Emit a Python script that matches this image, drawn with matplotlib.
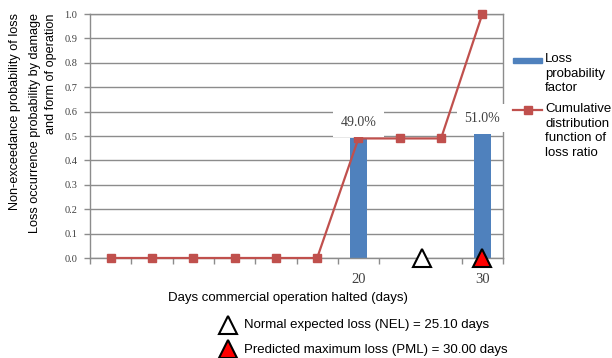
import matplotlib
matplotlib.use("Agg")
import matplotlib.pyplot as plt
from matplotlib.lines import Line2D
from matplotlib.patches import Rectangle

# ---- data ----
categories = list(range(10))
tick_labels = ["", "", "", "", "", "", "20", "", "", "30"]
bar_values = [0, 0, 0, 0, 0, 0, 0.49, 0, 0, 0.51]
bar_labels = {6: "49.0%", 9: "51.0%"}
cdf_values = [0, 0, 0, 0, 0, 0, 0.49, 0.49, 0.49, 1.0]
nel_days = 25.10
pml_days = 30.00
yticks = [round(0.1 * i, 1) for i in range(11)]

W, H = 612, 358
fig = plt.figure(figsize=(W / 100, H / 100), dpi=100)
sans = "Liberation Sans"
serif = "Liberation Serif"

def fx(px):
    return px / W

def fy(py):
    return 1 - py / H

ax = fig.add_axes([fx(90), fy(258), fx(503) - fx(90), (258 - 14) / H])

grid_c = "#8c8c8c"
blue = "#4F81BD"
red = "#C0504D"

# bars
bx = [c for c, v in zip(categories, bar_values) if v > 0]
bv = [v for v in bar_values if v > 0]
ax.bar(bx, bv, width=0.4, color=blue, zorder=2)

# line
ax.plot(categories, cdf_values, color=red, lw=1.6, marker="s", ms=6,
        zorder=3, clip_on=False)

# data labels
for i, txt in bar_labels.items():
    ax.annotate(txt, xy=(i, bar_values[i]), xytext=(0, 6.5), textcoords="offset points",
                ha="center", va="bottom", fontsize=10, family=serif, color="#404040",
                bbox=dict(boxstyle="square,pad=0.55", fc="white", ec="none"), zorder=4)

# NEL / PML markers: map days to category positions via tick labels (20 -> 6, 30 -> 9)
def day_to_pos(d):
    return 6 + (d - 20) * (9 - 6) / (30 - 20)

ax.plot([day_to_pos(nel_days)], [0], marker="^", ms=13, mfc="white", mec="black",
        mew=1.5, ls="none", clip_on=False, zorder=5)
ax.plot([day_to_pos(pml_days)], [0], marker="^", ms=13, mfc="red", mec="black",
        mew=1.5, ls="none", clip_on=False, zorder=5)

ax.set_xlim(-0.5, 9.5)
ax.set_ylim(0, 1.0)
ax.set_yticks(yticks)
ax.set_yticklabels([f"{t:.1f}" for t in yticks], family=serif, fontsize=7.5, color="#404040")
ax.set_xticks(categories)
ax.set_xticklabels(tick_labels, family=serif, fontsize=10.5, color="#404040")
ax.set_xticks([c + 0.5 for c in categories[:-1]] + [-0.5, 9.5], minor=True)
ax.tick_params(axis="x", which="major", length=0, pad=11)
ax.tick_params(axis="x", which="minor", length=4, color=grid_c, width=1)
ax.tick_params(axis="y", length=4, color=grid_c, width=1, pad=5)
ax.grid(axis="y", color=grid_c, lw=1, zorder=0)
ax.set_axisbelow(True)
for s in ax.spines.values():
    s.set_color(grid_c)
    s.set_linewidth(1)

# axis titles
fig.text(fx(288), fy(297.5), "Days commercial operation halted (days)", ha="center", va="center",
         fontsize=9.5, family=sans)
fig.text(fx(15), fy(13), "Non-exceedance probability of loss", rotation=90, ha="center",
         va="top", fontsize=9.1, family=sans)
fig.text(fx(35), fy(13), "Loss occurrence probability by damage", rotation=90, ha="center",
         va="top", fontsize=9.1, family=sans)
fig.text(fx(51), fy(13), "and form of operation", rotation=90, ha="center",
         va="top", fontsize=9.1, family=sans)

# right legend
fig.add_artist(Rectangle((fx(513), fy(63)), fx(542) - fx(513), 5 / H, color=blue,
                         transform=fig.transFigure))
fig.text(fx(545), fy(53.5), "Loss\nprobability\nfactor", ha="left", va="top", fontsize=9.5,
         family=sans, linespacing=1.27)
fig.add_artist(Line2D([fx(513), fx(542)], [fy(110), fy(110)], color=red, lw=1.6,
                      transform=fig.transFigure))
fig.add_artist(Line2D([fx(527.5)], [fy(110)], color=red, marker="s", ms=6,
                      transform=fig.transFigure))
fig.text(fx(545), fy(103.5), "Cumulative\ndistribution\nfunction of\nloss ratio", ha="left",
         va="top", fontsize=9.5, family=sans, linespacing=1.27)

# bottom legend
fig.add_artist(Line2D([fx(228)], [fy(325)], marker="^", ms=13, mfc="white", mec="black",
                      mew=1.5, transform=fig.transFigure))
fig.add_artist(Line2D([fx(228)], [fy(349)], marker="^", ms=13, mfc="red", mec="black",
                      mew=1.5, transform=fig.transFigure))
fig.text(fx(244), fy(325), f"Normal expected loss (NEL) = {nel_days:.2f} days", ha="left",
         va="center", fontsize=9.5, family=sans)
fig.text(fx(244), fy(350), f"Predicted maximum loss (PML) = {pml_days:.2f} days", ha="left",
         va="center", fontsize=9.5, family=sans)

fig.savefig("out.png", dpi=100)
